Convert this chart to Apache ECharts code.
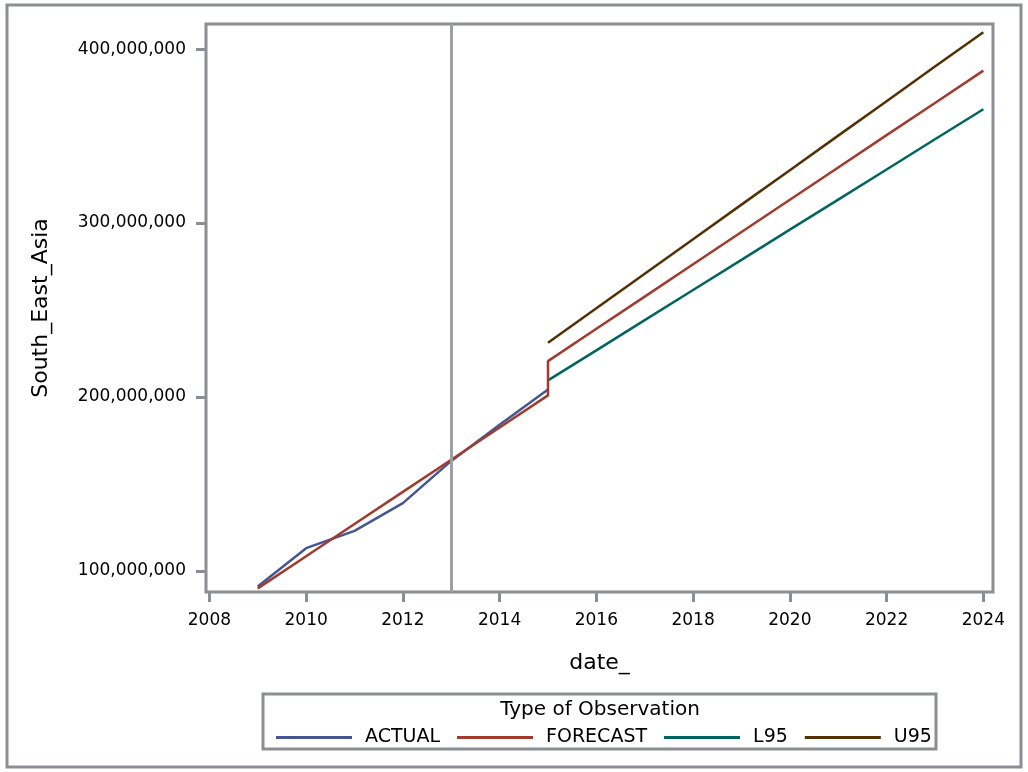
<!DOCTYPE html>
<html>
<head>
<meta charset="utf-8">
<script src="https://cdn.jsdelivr.net/npm/echarts@6/dist/echarts.min.js"></script>
<style>html,body{margin:0;padding:0;background:#fff;}#c{width:1028px;height:772px;}</style>
</head>
<body>
<div id="c"></div>
<script>
// ---- data ----
var actualYears = [2009, 2010, 2011, 2012, 2013, 2014, 2015];
var actualValues = [91.0e6, 113.0e6, 123.0e6, 138.9e6, 163.2e6, 184.0e6, 204.3e6];

var fitYears = [2009, 2010, 2011, 2012, 2013, 2014, 2015];
var fitValues = [89.9e6, 108.4e6, 126.9e6, 145.4e6, 163.9e6, 182.4e6, 200.9e6];

var fcYears = [2015, 2016, 2017, 2018, 2019, 2020, 2021, 2022, 2023, 2024];
var fcValues = [220.6e6, 239.2e6, 257.7e6, 276.3e6, 294.9e6, 313.4e6, 332.0e6, 350.6e6, 369.1e6, 387.7e6];
var l95Values = [209.5e6, 226.8e6, 244.2e6, 261.5e6, 278.8e6, 296.2e6, 313.5e6, 330.8e6, 348.2e6, 365.5e6];
var u95Values = [231.2e6, 251.0e6, 270.9e6, 290.7e6, 310.6e6, 330.4e6, 350.3e6, 370.1e6, 390.0e6, 409.8e6];

var xTicks = [2008, 2010, 2012, 2014, 2016, 2018, 2020, 2022, 2024];
var yTicks = [100e6, 200e6, 300e6, 400e6];
var refYear = 2013;

function pairs(xs, ys) { return xs.map(function (x, i) { return [x, ys[i]]; }); }

var forecastData = pairs(fitYears, fitValues).concat(pairs(fcYears, fcValues));

var GRAY = '#8b8e92';
var FONT = 'DejaVu Sans';

var chart = echarts.init(document.getElementById('c'));
chart.setOption({
  animation: false,
  backgroundColor: '#fff',
  textStyle: { fontFamily: FONT },
  grid: { left: 206, right: 35, top: 24, bottom: 180, show: true, borderColor: GRAY, borderWidth: 3, backgroundColor: '#fff' },
  xAxis: {
    type: 'value', min: 2007.93, max: 2024.2,
    name: 'date_', nameLocation: 'middle', nameGap: 60,
    nameTextStyle: { fontSize: 22, color: '#000', fontFamily: FONT },
    axisLine: { show: false },
    splitLine: { show: false },
    axisTick: { show: true, length: 10, lineStyle: { color: GRAY, width: 3 }, customValues: xTicks },
    axisLabel: { fontSize: 17, color: '#000', margin: 20, customValues: xTicks, formatter: function (v) { return String(v); } }
  },
  yAxis: {
    type: 'value', min: 87.8e6, max: 414.5e6,
    name: 'South_East_Asia', nameLocation: 'middle', nameGap: 154, nameRotate: 90,
    nameTextStyle: { fontSize: 22, color: '#000', fontFamily: FONT },
    axisLine: { show: false },
    splitLine: { show: false },
    axisTick: { show: true, length: 10, lineStyle: { color: GRAY, width: 3 }, customValues: yTicks },
    axisLabel: { fontSize: 17, color: '#000', margin: 20, customValues: yTicks, formatter: function (v) { return Math.round(v).toLocaleString('en-US'); } }
  },
  legend: {
    left: 271, top: 723,
    icon: 'rect', itemWidth: 76, itemHeight: 3, itemGap: 17,
    textStyle: { fontSize: 19, color: '#000', fontFamily: FONT, padding: [0, 0, 0, 8] },
    data: ['ACTUAL', 'FORECAST', 'L95', 'U95']
  },
  graphic: [
    { type: 'rect', shape: { x: 7, y: 5, width: 1014, height: 762 }, style: { fill: null, stroke: GRAY, lineWidth: 3 }, z: -1 },
    { type: 'rect', shape: { x: 263, y: 694, width: 673, height: 55 }, style: { fill: null, stroke: GRAY, lineWidth: 3 } },
    { type: 'text', x: 600, y: 710, style: { text: 'Type of Observation', font: '20px "DejaVu Sans"', fill: '#000', textAlign: 'center', textVerticalAlign: 'middle' } }
  ],
  series: [
    {
      name: 'ref', type: 'line', data: [], silent: true,
      markLine: { symbol: 'none', silent: true, label: { show: false }, lineStyle: { color: '#9c9fa3', width: 3, type: 'solid' }, data: [{ xAxis: refYear }] },
      z: 1
    },
    { name: 'ACTUAL', type: 'line', data: pairs(actualYears, actualValues), symbol: 'none', lineStyle: { color: '#445694', width: 2.5 }, itemStyle: { color: '#445694' }, z: 3 },
    { name: 'FORECAST', type: 'line', data: forecastData, symbol: 'none', lineStyle: { color: '#A23A2E', width: 2.5 }, itemStyle: { color: '#A23A2E' }, z: 4 },
    { name: 'L95', type: 'line', data: pairs(fcYears, l95Values), symbol: 'none', lineStyle: { color: '#01665E', width: 2.5 }, itemStyle: { color: '#01665E' }, z: 3 },
    { name: 'U95', type: 'line', data: pairs(fcYears, u95Values), symbol: 'none', lineStyle: { color: '#543005', width: 2.5 }, itemStyle: { color: '#543005' }, z: 3 }
  ]
});
</script>
</body>
</html>
